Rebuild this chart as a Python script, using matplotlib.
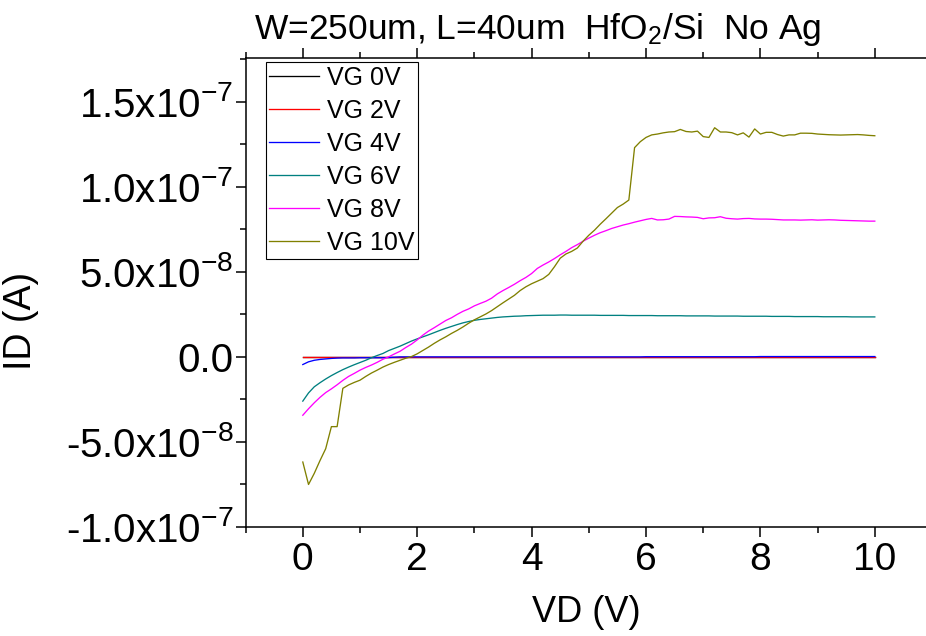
import matplotlib
matplotlib.use("Agg")
import matplotlib.pyplot as plt
from matplotlib.ticker import MultipleLocator, FuncFormatter
import numpy as np

plt.rcParams["font.family"] = ["Liberation Sans", "DejaVu Sans"]
plt.rcParams["mathtext.fontset"] = "custom"
plt.rcParams["mathtext.rm"] = "Liberation Sans"
plt.rcParams["mathtext.it"] = "Liberation Sans:italic"
plt.rcParams["mathtext.bf"] = "Liberation Sans:bold"

# Drain-voltage sweep (V), 0.1 V steps
VD = [round(0.1 * i, 1) for i in range(101)]

# Drain currents in units of 1e-8 A, one list per gate voltage
ID_VG0 = [
    0.00, 0.00, 0.00, 0.00, 0.00, 0.00, 0.00, 0.00, 0.00, 0.00,
    0.00, 0.00, 0.00, 0.00, 0.00, 0.00, 0.00, 0.00, 0.00, 0.00,
    0.00, 0.00, 0.00, 0.00, 0.00, 0.00, 0.00, 0.00, 0.00, 0.00,
    0.00, 0.00, 0.00, 0.00, 0.00, 0.00, 0.00, 0.00, 0.00, 0.00,
    0.00, 0.00, 0.00, 0.00, 0.00, 0.00, 0.00, 0.00, 0.00, 0.00,
    0.00, 0.00, 0.00, 0.00, 0.00, 0.00, 0.00, 0.00, 0.00, 0.00,
    0.00, 0.00, 0.00, 0.00, 0.00, 0.00, 0.00, 0.00, 0.00, 0.00,
    0.00, 0.00, 0.00, 0.00, 0.00, 0.00, 0.00, 0.00, 0.00, 0.00,
    0.00, 0.00, 0.00, 0.00, 0.00, 0.00, 0.00, 0.00, 0.00, 0.00,
    0.00, 0.00, 0.00, 0.00, 0.00, 0.00, 0.00, 0.00, 0.00, 0.00,
    0.00,
]
ID_VG2 = [
    0.00, 0.00, 0.00, 0.00, 0.00, 0.00, 0.00, 0.00, 0.00, 0.00,
    0.00, 0.00, 0.00, 0.00, 0.00, 0.00, 0.00, 0.00, 0.00, 0.00,
    0.00, 0.00, 0.00, 0.00, 0.00, 0.00, 0.00, 0.00, 0.00, 0.00,
    0.00, 0.00, 0.00, 0.00, 0.00, 0.00, 0.00, 0.00, 0.00, 0.00,
    0.00, 0.00, 0.00, 0.00, 0.00, 0.00, 0.00, 0.00, 0.00, 0.00,
    0.00, 0.00, 0.00, 0.00, 0.00, 0.00, 0.00, 0.00, 0.00, 0.00,
    0.00, 0.00, 0.00, 0.00, 0.00, 0.00, 0.00, 0.00, 0.00, 0.00,
    0.00, 0.00, 0.00, 0.00, 0.00, 0.00, 0.00, 0.00, 0.00, 0.00,
    0.00, 0.00, 0.00, 0.00, 0.00, 0.00, 0.00, 0.00, 0.00, 0.00,
    0.00, 0.00, 0.00, 0.00, 0.00, 0.00, 0.00, 0.00, 0.00, 0.00,
    0.00,
]
ID_VG4 = [
    -0.45, -0.29, -0.20, -0.15, -0.12, -0.09, -0.07, -0.06, -0.06, -0.06,
    -0.05, -0.05, -0.05, -0.05, -0.05, -0.04, -0.02, 0.00, 0.00, 0.00,
    0.00, 0.00, 0.00, 0.00, 0.00, 0.00, 0.00, 0.00, 0.00, 0.00,
    0.00, 0.00, 0.00, 0.00, 0.00, 0.00, 0.00, 0.00, 0.00, 0.00,
    0.00, 0.00, 0.00, 0.00, 0.00, 0.00, 0.00, 0.00, 0.00, 0.00,
    0.00, 0.00, 0.00, 0.00, 0.00, 0.00, 0.00, 0.00, 0.00, 0.00,
    0.01, 0.01, 0.01, 0.01, 0.01, 0.01, 0.01, 0.01, 0.01, 0.01,
    0.01, 0.01, 0.01, 0.01, 0.01, 0.01, 0.01, 0.01, 0.01, 0.01,
    0.02, 0.02, 0.02, 0.02, 0.02, 0.02, 0.02, 0.02, 0.02, 0.02,
    0.02, 0.02, 0.02, 0.02, 0.02, 0.02, 0.02, 0.02, 0.02, 0.02,
    0.02,
]
ID_VG6 = [
    -2.60, -2.12, -1.76, -1.52, -1.30, -1.10, -0.92, -0.75, -0.60, -0.46,
    -0.33, -0.20, -0.05, 0.08, 0.20, 0.37, 0.50, 0.63, 0.78, 0.93,
    1.06, 1.18, 1.30, 1.43, 1.56, 1.68, 1.79, 1.90, 2.00, 2.08,
    2.15, 2.20, 2.24, 2.28, 2.32, 2.35, 2.37, 2.39, 2.40, 2.42,
    2.43, 2.44, 2.45, 2.45, 2.45, 2.46, 2.46, 2.45, 2.45, 2.45,
    2.45, 2.45, 2.44, 2.44, 2.44, 2.44, 2.44, 2.43, 2.43, 2.43,
    2.43, 2.43, 2.42, 2.42, 2.42, 2.42, 2.42, 2.41, 2.41, 2.41,
    2.41, 2.41, 2.40, 2.40, 2.40, 2.40, 2.40, 2.39, 2.39, 2.39,
    2.39, 2.39, 2.38, 2.38, 2.38, 2.38, 2.37, 2.37, 2.37, 2.37,
    2.37, 2.36, 2.36, 2.36, 2.36, 2.36, 2.35, 2.35, 2.35, 2.35,
    2.35,
]
ID_VG8 = [
    -3.43, -3.05, -2.70, -2.38, -2.10, -1.88, -1.64, -1.38, -1.15, -0.97,
    -0.78, -0.62, -0.48, -0.32, -0.14, 0.00, 0.17, 0.33, 0.55, 0.75,
    1.00, 1.28, 1.52, 1.72, 1.93, 2.14, 2.30, 2.50, 2.68, 2.82,
    3.00, 3.14, 3.27, 3.45, 3.70, 3.90, 4.08, 4.27, 4.48, 4.67,
    4.90, 5.20, 5.40, 5.58, 5.78, 6.00, 6.20, 6.42, 6.60, 6.80,
    6.98, 7.15, 7.30, 7.42, 7.55, 7.65, 7.75, 7.83, 7.92, 8.00,
    8.08, 8.14, 8.05, 8.06, 8.10, 8.26, 8.25, 8.23, 8.22, 8.20,
    8.12, 8.17, 8.18, 8.24, 8.15, 8.12, 8.10, 8.13, 8.14, 8.11,
    8.10, 8.10, 8.09, 8.07, 8.05, 8.05, 8.05, 8.04, 8.05, 8.06,
    8.04, 8.05, 8.06, 8.05, 8.03, 8.02, 8.01, 8.00, 7.99, 7.98,
    7.98,
]
ID_VG10 = [
    -6.18, -7.50, -6.85, -6.10, -5.40, -4.10, -4.10, -1.85, -1.65, -1.50,
    -1.37, -1.15, -0.95, -0.78, -0.60, -0.45, -0.32, -0.20, -0.08, 0.02,
    0.18, 0.38, 0.58, 0.80, 1.00, 1.18, 1.38, 1.56, 1.76, 1.98,
    2.18, 2.35, 2.52, 2.72, 2.95, 3.18, 3.40, 3.62, 3.90, 4.12,
    4.30, 4.45, 4.60, 4.85, 5.30, 5.80, 6.05, 6.20, 6.40, 6.80,
    7.15, 7.45, 7.80, 8.12, 8.45, 8.78, 8.98, 9.22, 12.30, 12.65,
    12.90, 13.05, 13.10, 13.17, 13.22, 13.24, 13.37, 13.25, 13.22, 13.27,
    12.95, 12.90, 13.47, 13.22, 13.22, 13.18, 13.05, 13.17, 12.92, 13.40,
    13.10, 13.20, 13.20, 13.07, 12.98, 13.05, 13.05, 13.15, 13.15, 13.14,
    13.10, 13.08, 13.06, 13.05, 13.04, 13.05, 13.06, 13.07, 13.05, 13.02,
    13.00,
]

LABELS = ["VG 0V", "VG 2V", "VG 4V", "VG 6V", "VG 8V", "VG 10V"]
COLORS = ["#000000", "#FF0000", "#0000FF", "#008080", "#FF00FF", "#808000"]
SERIES = [ID_VG0, ID_VG2, ID_VG4, ID_VG6, ID_VG8, ID_VG10]
UNIT = 1e-8

W, H = 926, 636
fig = plt.figure(figsize=(W / 100, H / 100), dpi=100)
ax = fig.add_axes([245.6 / W, 1 - 527 / H, (926 - 245.6) / W, (527 - 58) / H])

for vals, lab, col in zip(SERIES, LABELS, COLORS):
    ax.plot(VD, np.asarray(vals) * UNIT, color=col, lw=0.95, label=lab)

ax.set_xlim(-1, 10.895)
ax.set_ylim(-1.0e-7, 1.757e-7)

ax.xaxis.set_major_locator(MultipleLocator(2))
ax.xaxis.set_minor_locator(MultipleLocator(1))
ax.yaxis.set_major_locator(MultipleLocator(5e-8))
ax.yaxis.set_minor_locator(MultipleLocator(2.5e-8))


def sci_label(v, pos):
    if abs(v) < 1e-12:
        return "0.0"
    e = int(np.floor(np.log10(abs(v)) + 1e-9))
    m = v / 10 ** e
    return "%.1fx10" % m + r"$^{\mathregular{%d}}$" % e


ax.yaxis.set_major_formatter(FuncFormatter(sci_label))

for s in ["left", "bottom", "top"]:
    ax.spines[s].set_linewidth(1.1)
ax.spines["right"].set_visible(False)

ax.tick_params(which="both", direction="out", top=True, right=False,
               labeltop=False, width=1.1)
ax.tick_params(which="major", length=7)
ax.tick_params(which="minor", length=4)
ax.tick_params(axis="x", which="major", labelsize=28, pad=4)
ax.tick_params(axis="y", which="major", labelsize=29, pad=2)

fig.text(586 / W, 1 - 612 / H, "VD (V)", fontsize=26, ha="center", va="center")
fig.text(21 / W, 1 - 321 / H, "ID (A)", fontsize=27, rotation=90,
         ha="center", va="center")
fig.text(538 / W, 1 - 39 / H, r"W=250um, L=40um  HfO$_\mathregular{2}$/Si  No Ag",
         fontsize=25.5, ha="center", va="baseline")

leg = ax.legend(loc="upper left", bbox_to_anchor=(265.7 / W, 1 - 62.3 / H),
                bbox_transform=fig.transFigure, borderaxespad=0,
                fontsize=18, handlelength=2.0, handletextpad=0.3,
                borderpad=0.15, labelspacing=0.36, frameon=True,
                fancybox=False, framealpha=1)
leg.get_frame().set_edgecolor("black")
leg.get_frame().set_linewidth(0.8)

fig.savefig("out.png", dpi=100)
